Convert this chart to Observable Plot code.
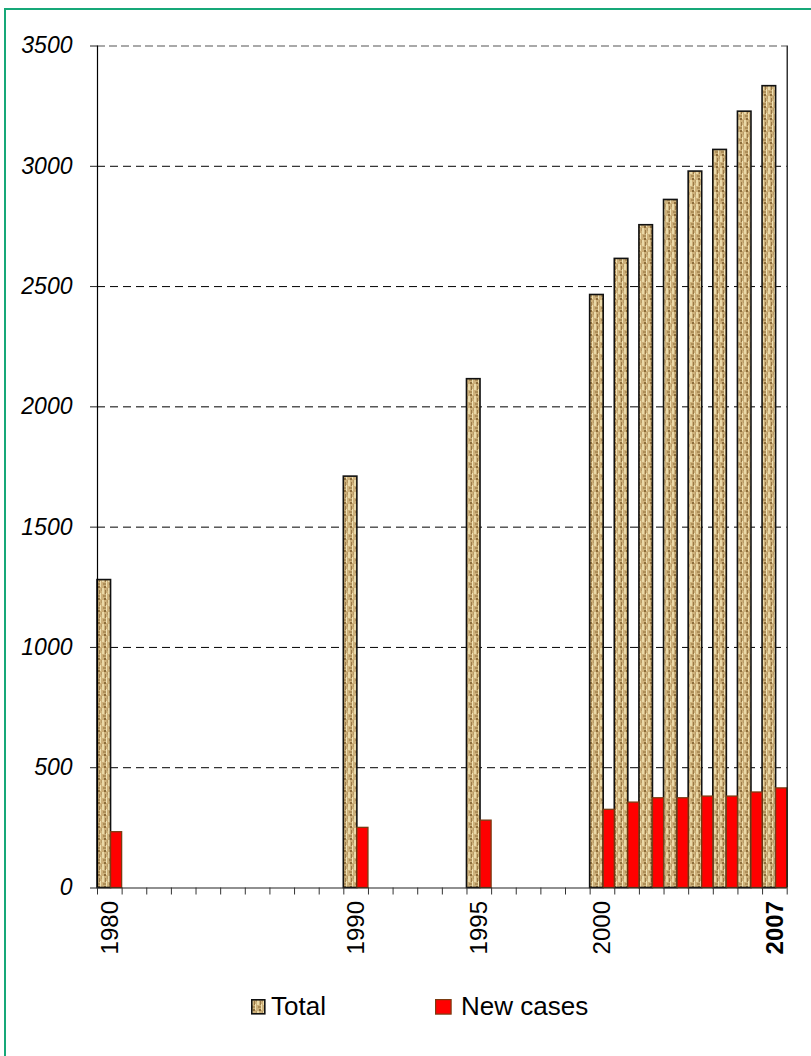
<!DOCTYPE html>
<html>
<head>
<meta charset="utf-8">
<script src="https://cdn.jsdelivr.net/npm/d3@7"></script>
<script src="https://cdn.jsdelivr.net/npm/@observablehq/plot@0.6"></script>
<style>
  html, body { margin: 0; padding: 0; background: #fff; }
  #wrap { position: relative; width: 811px; height: 1056px; overflow: hidden; background: #fff;
          font-family: "Liberation Sans", Arimo, Arial, sans-serif; }
  #frame { position: absolute; left: 4px; top: 8px; width: 900px; height: 1100px;
           border-left: 2.5px solid #17a878; border-top: 2.5px solid #17a878; }
  #chart { position: absolute; left: 0; top: 0; }
  #legend { position: absolute; left: 0; top: 0; width: 811px; height: 1056px; pointer-events: none; }
  .item { position: absolute; top: 991px; font-size: 26px; line-height: 30px; color: #000; white-space: nowrap; }
  .sw { position: absolute; top: 999px; }
  g[aria-label="y-axis tick label"] text { font-style: italic; }
</style>
</head>
<body>
<div id="wrap">
  <div id="frame"></div>
  <div id="chart"></div>
  <div id="legend"></div>
</div>
<script>
// ---- data ----
const years    = [1980, 1990, 1995, 2000, 2001, 2002, 2003, 2004, 2005, 2006, 2007];
const total    = [1280, 1710, 2115, 2465, 2615, 2755, 2860, 2978, 3068, 3227, 3333];
const newCases = [232,  250,  280,  325,  355,  373,  373,  380,  380,  397,  414];
const yTicks   = [0, 500, 1000, 1500, 2000, 2500, 3000, 3500];
const labelYears = [1980, 1990, 1995, 2000];
const boldYears  = [2007];
const seriesNames = ["Total", "New cases"];
const firstYear = 1980, lastYear = 2007;

const rows = years.map((y, i) => ({year: y, total: total[i], newCases: newCases[i]}));
const slotYears = d3.range(firstYear, lastYear + 2);
const split = 0.55;
const FONT = '"Liberation Sans", Arimo, Arial, sans-serif';

const plot = Plot.plot({
  width: 811,
  height: 960,
  marginLeft: 97,
  marginRight: 24.3,
  marginTop: 45.5,
  marginBottom: 72.5,
  style: {fontFamily: FONT, background: "transparent", color: "#000"},
  x: {domain: [firstYear, lastYear + 1], axis: null},
  y: {domain: [0, 3500], axis: null},
  marks: [
    Plot.gridY(yTicks.filter(t => t > 0 && t < 3500), {stroke: "#000", strokeOpacity: 1, strokeWidth: 1, strokeDasharray: "8,5"}),
    Plot.gridY([3500], {stroke: "#555", strokeOpacity: 1, strokeWidth: 1.2, strokeDasharray: "8,4"}),
    Plot.rectY(rows, {x1: d => d.year, x2: d => d.year + split, y: "total",
      fill: "url(#burlap)", stroke: "#111", strokeWidth: 1.6}),
    Plot.rectY(rows, {x1: d => d.year + split, x2: d => d.year + 1, y: "newCases",
      fill: "#ff0000", stroke: "#7a3c12", strokeWidth: 1.3}),
    Plot.ruleX([firstYear], {stroke: "#000", strokeWidth: 1.2}),
    Plot.ruleX([lastYear + 1], {stroke: "#000", strokeWidth: 1.2}),
    Plot.ruleY([0], {stroke: "#222", strokeWidth: 1.2}),
    Plot.axisY(yTicks, {anchor: "left", tickSize: 7, tickPadding: 18, fontSize: 23, fontStyle: "italic",
      fontFamily: FONT, tickFormat: d => String(d), label: null, stroke: "#222"}),
    Plot.axisX(slotYears, {anchor: "bottom", tickSize: 7, tickFormat: () => "", label: null, stroke: "#333"}),
    Plot.text(labelYears, {x: d => d + 0.5, y: () => 0, text: d => String(d), rotate: -90,
      textAnchor: "end", lineAnchor: "middle", dy: 13, fontSize: 24, fontFamily: FONT, fill: "#000"}),
    Plot.text(boldYears, {x: d => d + 0.5, y: () => 0, text: d => String(d), rotate: -90,
      textAnchor: "end", lineAnchor: "middle", dy: 13, fontSize: 24, fontFamily: FONT, fontWeight: "bold", fill: "#000"})
  ]
});

plot.insertAdjacentHTML("afterbegin", `
<defs>
  <pattern id="burlap" width="6" height="12" patternUnits="userSpaceOnUse">
    <rect width="6" height="12" fill="#cdb07a"/>
    <rect x="0" y="0" width="2" height="6" fill="#ead9a8"/>
    <rect x="3" y="2" width="1" height="4" fill="#9a7a47"/>
    <rect x="1" y="7" width="3" height="2" fill="#ad8e58"/>
    <rect x="4" y="5" width="1" height="6" fill="#efe0b2"/>
    <rect x="2" y="10" width="2" height="2" fill="#8c6c3a"/>
    <rect x="5" y="0" width="1" height="3" fill="#b89a66"/>
  </pattern>
</defs>`);
document.getElementById("chart").appendChild(plot);

// legend
const legend = document.getElementById("legend");
legend.innerHTML = `
  <svg class="sw" style="left:251px" width="15" height="16"><rect x="0.8" y="0.8" width="13" height="14" fill="url(#burlap)" stroke="#111" stroke-width="1.6"/></svg>
  <div class="item" style="left:271px">${seriesNames[0]}</div>
  <svg class="sw" style="left:435px" width="17" height="16"><rect x="0.6" y="0.6" width="15.5" height="14.5" fill="#ff0000" stroke="#7a3c12" stroke-width="1.2"/></svg>
  <div class="item" style="left:461px">${seriesNames[1]}</div>`;
</script>
</body>
</html>
